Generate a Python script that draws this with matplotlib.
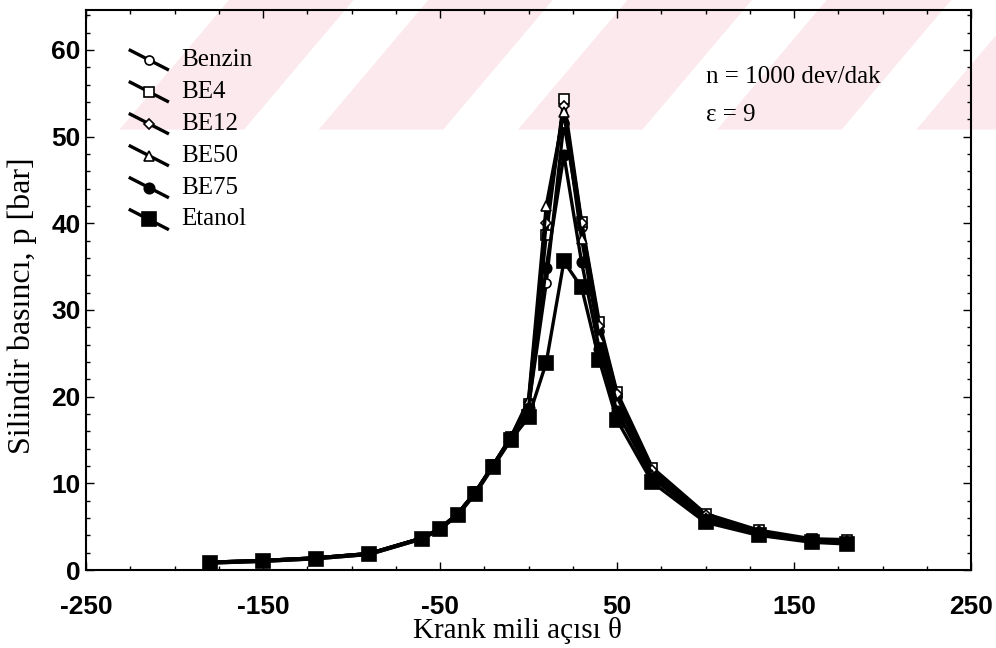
import matplotlib.pyplot as plt
import matplotlib.patches as patches
from matplotlib.ticker import MultipleLocator, FixedLocator

plt.rcParams['axes.unicode_minus'] = False

# krank mili acisi (derece)
theta = [-180, -150, -120, -90, -60, -50, -40, -30, -20, -10, 0, 10, 20, 30, 40, 50, 70, 100, 130, 160, 180]

benzin = [0.9, 1.1, 1.4, 1.9, 3.7, 4.8, 6.5, 9.0, 12.1, 15.3, 18.8, 33.1, 51.6, 39.6, 27.6, 20.0, 11.2, 6.2, 4.4, 3.5, 3.3]
be4 = [0.9, 1.1, 1.4, 1.9, 3.7, 4.8, 6.5, 9.0, 12.1, 15.3, 19.2, 38.6, 54.3, 40.2, 28.6, 20.5, 11.8, 6.5, 4.6, 3.6, 3.5]
be12 = [0.9, 1.1, 1.4, 1.9, 3.7, 4.8, 6.5, 9.0, 12.1, 15.3, 19.4, 40.0, 53.5, 40.0, 28.2, 20.3, 11.5, 6.4, 4.5, 3.5, 3.4]
be50 = [0.9, 1.1, 1.4, 1.9, 3.7, 4.8, 6.5, 9.0, 12.1, 15.3, 19.6, 42.0, 52.8, 38.2, 26.8, 19.2, 11.0, 6.0, 4.3, 3.4, 3.2]
be75 = [0.8, 1.0, 1.3, 1.8, 3.6, 4.7, 6.4, 8.9, 12.0, 15.1, 18.7, 34.9, 47.9, 35.5, 25.5, 18.3, 10.6, 5.8, 4.1, 3.3, 3.1]
etanol = [0.8, 1.0, 1.3, 1.8, 3.6, 4.7, 6.3, 8.8, 11.9, 15.0, 17.6, 23.9, 35.6, 32.6, 24.2, 17.3, 10.1, 5.5, 4.0, 3.2, 3.0]

names = ['Benzin', 'BE4', 'BE12', 'BE50', 'BE75', 'Etanol']
series = [benzin, be4, be12, be50, be75, etanol]
markers = ['o', 's', 'D', '^', 'o', 's']
fills = ['white', 'white', 'white', 'white', 'black', 'black']
msizes = [6.5, 7, 5, 6.5, 7.5, 9.5]

serif = ['Liberation Serif', 'DejaVu Serif']
sans = ['Liberation Sans Narrow', 'Liberation Sans', 'DejaVu Sans']

fig = plt.figure(figsize=(9.96, 6.48), dpi=100)

# soluk pembe filigran (arka planda)
wm = '#fce9ed'
for x0 in [0.12, 0.32, 0.52, 0.72, 0.92]:
    poly = patches.Polygon([(x0, 0.80), (x0 + 0.125, 0.80), (x0 + 0.235, 1.0), (x0 + 0.11, 1.0)],
                           closed=True, transform=fig.transFigure, facecolor=wm,
                           edgecolor='none', zorder=-5)
    fig.patches.append(poly)

ax = fig.add_axes([86 / 996, 78 / 648, 885 / 996, 560 / 648])
ax.set_facecolor('none')

for ys, m, fc, ms in zip(series, markers, fills, msizes):
    ax.plot(theta, ys, color='black', lw=2.4, marker=m, markerfacecolor=fc,
            markeredgecolor='black', markeredgewidth=1.2, markersize=ms, zorder=3)

ax.set_xlim(-250, 250)
ax.set_ylim(0, 560 / 8.667)
ax.xaxis.set_major_locator(FixedLocator([-250, -150, -50, 50, 150, 250]))
ax.xaxis.set_minor_locator(MultipleLocator(25))
ax.yaxis.set_major_locator(FixedLocator([0, 10, 20, 30, 40, 50, 60]))
ax.yaxis.set_minor_locator(MultipleLocator(2))
ax.tick_params(which='both', direction='in', top=True, right=True, width=1)
ax.tick_params(which='major', length=6, labelsize=19)
ax.tick_params(axis='x', which='major', pad=18)
ax.tick_params(axis='y', which='major', pad=4)
ax.tick_params(which='minor', length=3)
for lab in ax.get_xticklabels() + ax.get_yticklabels():
    lab.set_family(sans)
    lab.set_fontweight('bold')
for s in ax.spines.values():
    s.set_linewidth(1.5)

ax.set_xlabel('Krank mili açısı θ', family=serif, fontsize=21)
ax.xaxis.set_label_coords(0.488, -0.108)
ax.xaxis.label.set_verticalalignment('center')
ax.set_ylabel('Silindir basıncı, p [bar]', family=serif, fontsize=23)
ax.yaxis.set_label_coords(-0.072, 0.472)
ax.yaxis.label.set_verticalalignment('center')

# lejant: egik cizgi + isaret
for i, (nm, m, fc, ms) in enumerate(zip(names, markers, fills, msizes)):
    yc = 0.911 - i * 0.057
    ax.plot([0.05, 0.092], [yc + 0.017, yc - 0.017], transform=ax.transAxes,
            color='black', lw=2.4, clip_on=False, zorder=4)
    ax.plot([0.071], [yc], transform=ax.transAxes, marker=m, markerfacecolor=fc,
            markeredgecolor='black', markeredgewidth=1.2, markersize=ms, zorder=5)
    ax.text(0.108, yc, nm, transform=ax.transAxes, family=serif, fontsize=18,
            va='center', ha='left')

ax.text(0.701, 0.881, 'n = 1000 dev/dak', transform=ax.transAxes, family=serif,
        fontsize=18, va='center', ha='left')
ax.text(0.701, 0.813, 'ε = 9', transform=ax.transAxes, family=serif,
        fontsize=18, va='center', ha='left')

fig.savefig('out.png', dpi=100)
